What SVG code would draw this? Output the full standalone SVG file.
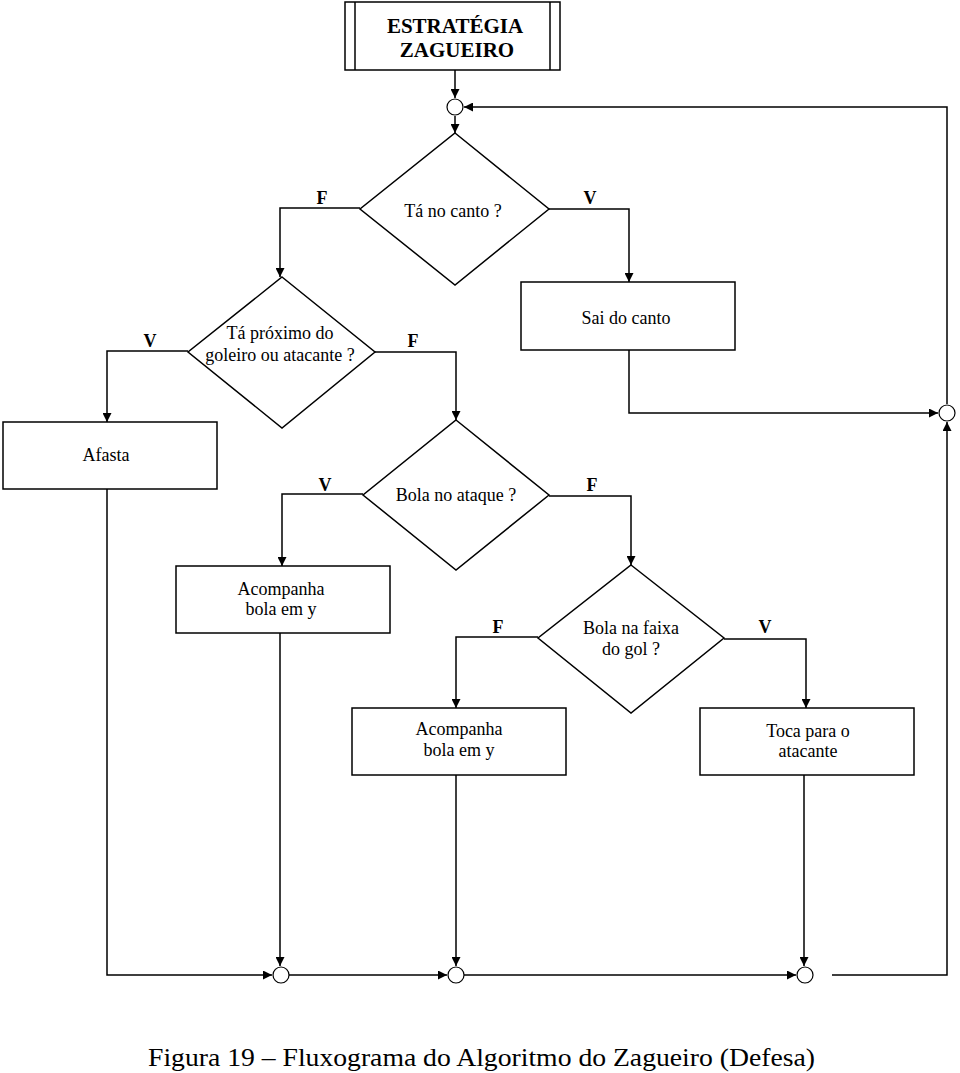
<svg xmlns="http://www.w3.org/2000/svg" width="960" height="1073" viewBox="0 0 960 1073">
<style>
.box{fill:#fff;stroke:#000;stroke-width:1.5}
.c{fill:#fff;stroke:#000;stroke-width:1.2}
.ln{fill:none;stroke:#000;stroke-width:1.5}
.t{font-family:"Liberation Serif",serif;font-size:18px;text-anchor:middle;fill:#000}
.lb{font-family:"Liberation Serif",serif;font-size:18px;font-weight:bold;text-anchor:middle;fill:#000}
.tt{font-family:"Liberation Serif",serif;font-size:21px;font-weight:bold;text-anchor:middle;fill:#000}
.cap{font-family:"Liberation Serif",serif;font-size:26px;fill:#000}
</style>
<defs>
<marker id="ar" viewBox="0 0 10 10" refX="10" refY="5" markerWidth="9" markerHeight="9" markerUnits="userSpaceOnUse" orient="auto">
<path d="M0,0 L10,5 L0,10 z" fill="#000"/>
</marker>
</defs>
<rect width="960" height="1073" fill="#fff"/>
<g id="connectors">
<path class="ln" d="M455,70 V98" marker-end="url(#ar)"/>
<path class="ln" d="M455,116 V133" marker-end="url(#ar)"/>
<path class="ln" d="M947,404 V107 H464" marker-end="url(#ar)"/>
<path class="ln" d="M360,208 H280 V277" marker-end="url(#ar)"/>
<path class="ln" d="M549,209 H629 V282" marker-end="url(#ar)"/>
<path class="ln" d="M629,350 V413 H938" marker-end="url(#ar)"/>
<path class="ln" d="M188,351 H107 V422" marker-end="url(#ar)"/>
<path class="ln" d="M375,352 H456 V420" marker-end="url(#ar)"/>
<path class="ln" d="M107,489 V975 H272" marker-end="url(#ar)"/>
<path class="ln" d="M363,494 H282 V566" marker-end="url(#ar)"/>
<path class="ln" d="M549,496 H631 V565" marker-end="url(#ar)"/>
<path class="ln" d="M280,633 V966" marker-end="url(#ar)"/>
<path class="ln" d="M538,637 H456 V708" marker-end="url(#ar)"/>
<path class="ln" d="M724,639 H806 V708" marker-end="url(#ar)"/>
<path class="ln" d="M456,775 V966" marker-end="url(#ar)"/>
<path class="ln" d="M804,775 V966" marker-end="url(#ar)"/>
<path class="ln" d="M289,975 H447" marker-end="url(#ar)"/>
<path class="ln" d="M464,975 H796" marker-end="url(#ar)"/>
<path class="ln" d="M832,975 H947 V422" marker-end="url(#ar)"/>
<text class="lb" x="322" y="204">F</text>
<text class="lb" x="590" y="204">V</text>
<text class="lb" x="150" y="347">V</text>
<text class="lb" x="413" y="347">F</text>
<text class="lb" x="325" y="491">V</text>
<text class="lb" x="592" y="491">F</text>
<text class="lb" x="498" y="633">F</text>
<text class="lb" x="765" y="633">V</text>
</g>
<g id="title">
<rect class="box" x="345" y="2" width="215" height="68"/>
<line class="ln" x1="355" y1="2" x2="355" y2="70"/>
<line class="ln" x1="550" y1="2" x2="550" y2="70"/>
<text class="tt" x="455" y="33">ESTRATÉGIA</text>
<text class="tt" x="457" y="57">ZAGUEIRO</text>
</g>
<g id="join-top"><circle class="c" cx="455" cy="107" r="8"/></g>
<g id="join-right"><circle class="c" cx="947" cy="413" r="8"/></g>
<g id="join-b1"><circle class="c" cx="281" cy="975" r="8"/></g>
<g id="join-b2"><circle class="c" cx="456" cy="975" r="8"/></g>
<g id="join-b3"><circle class="c" cx="805" cy="975" r="8"/></g>
<g id="d-canto">
<polygon class="box" points="455,133 549,209 455,285 360,209"/>
<text class="t" x="453" y="217">Tá no canto ?</text>
</g>
<g id="sai-canto">
<rect class="box" x="521" y="282" width="214" height="68"/>
<text class="t" x="626" y="324">Sai do canto</text>
</g>
<g id="d-proximo">
<polygon class="box" points="282,277 375,352 282,428 188,352"/>
<text class="t" x="280" y="339">Tá próximo do</text>
<text class="t" x="280" y="361">goleiro ou atacante ?</text>
</g>
<g id="afasta">
<rect class="box" x="3" y="422" width="214" height="67"/>
<text class="t" x="106" y="461">Afasta</text>
</g>
<g id="d-ataque">
<polygon class="box" points="456,420 549,495 456,570 363,495"/>
<text class="t" x="456" y="501">Bola no ataque ?</text>
</g>
<g id="acompanha1">
<rect class="box" x="176" y="566" width="214" height="67"/>
<text class="t" x="281" y="595">Acompanha</text>
<text class="t" x="281" y="615">bola em y</text>
</g>
<g id="d-faixa">
<polygon class="box" points="631,565 724,638 631,713 538,638"/>
<text class="t" x="631" y="634">Bola na faixa</text>
<text class="t" x="631" y="655">do gol ?</text>
</g>
<g id="acompanha2">
<rect class="box" x="352" y="708" width="214" height="67"/>
<text class="t" x="459" y="735">Acompanha</text>
<text class="t" x="459" y="756">bola em y</text>
</g>
<g id="toca">
<rect class="box" x="700" y="708" width="214" height="67"/>
<text class="t" x="808" y="737">Toca para o</text>
<text class="t" x="808" y="757">atacante</text>
</g>
<text class="cap" x="148" y="1066" textLength="667" lengthAdjust="spacingAndGlyphs">Figura 19 – Fluxograma do Algoritmo do Zagueiro (Defesa)</text>
</svg>
